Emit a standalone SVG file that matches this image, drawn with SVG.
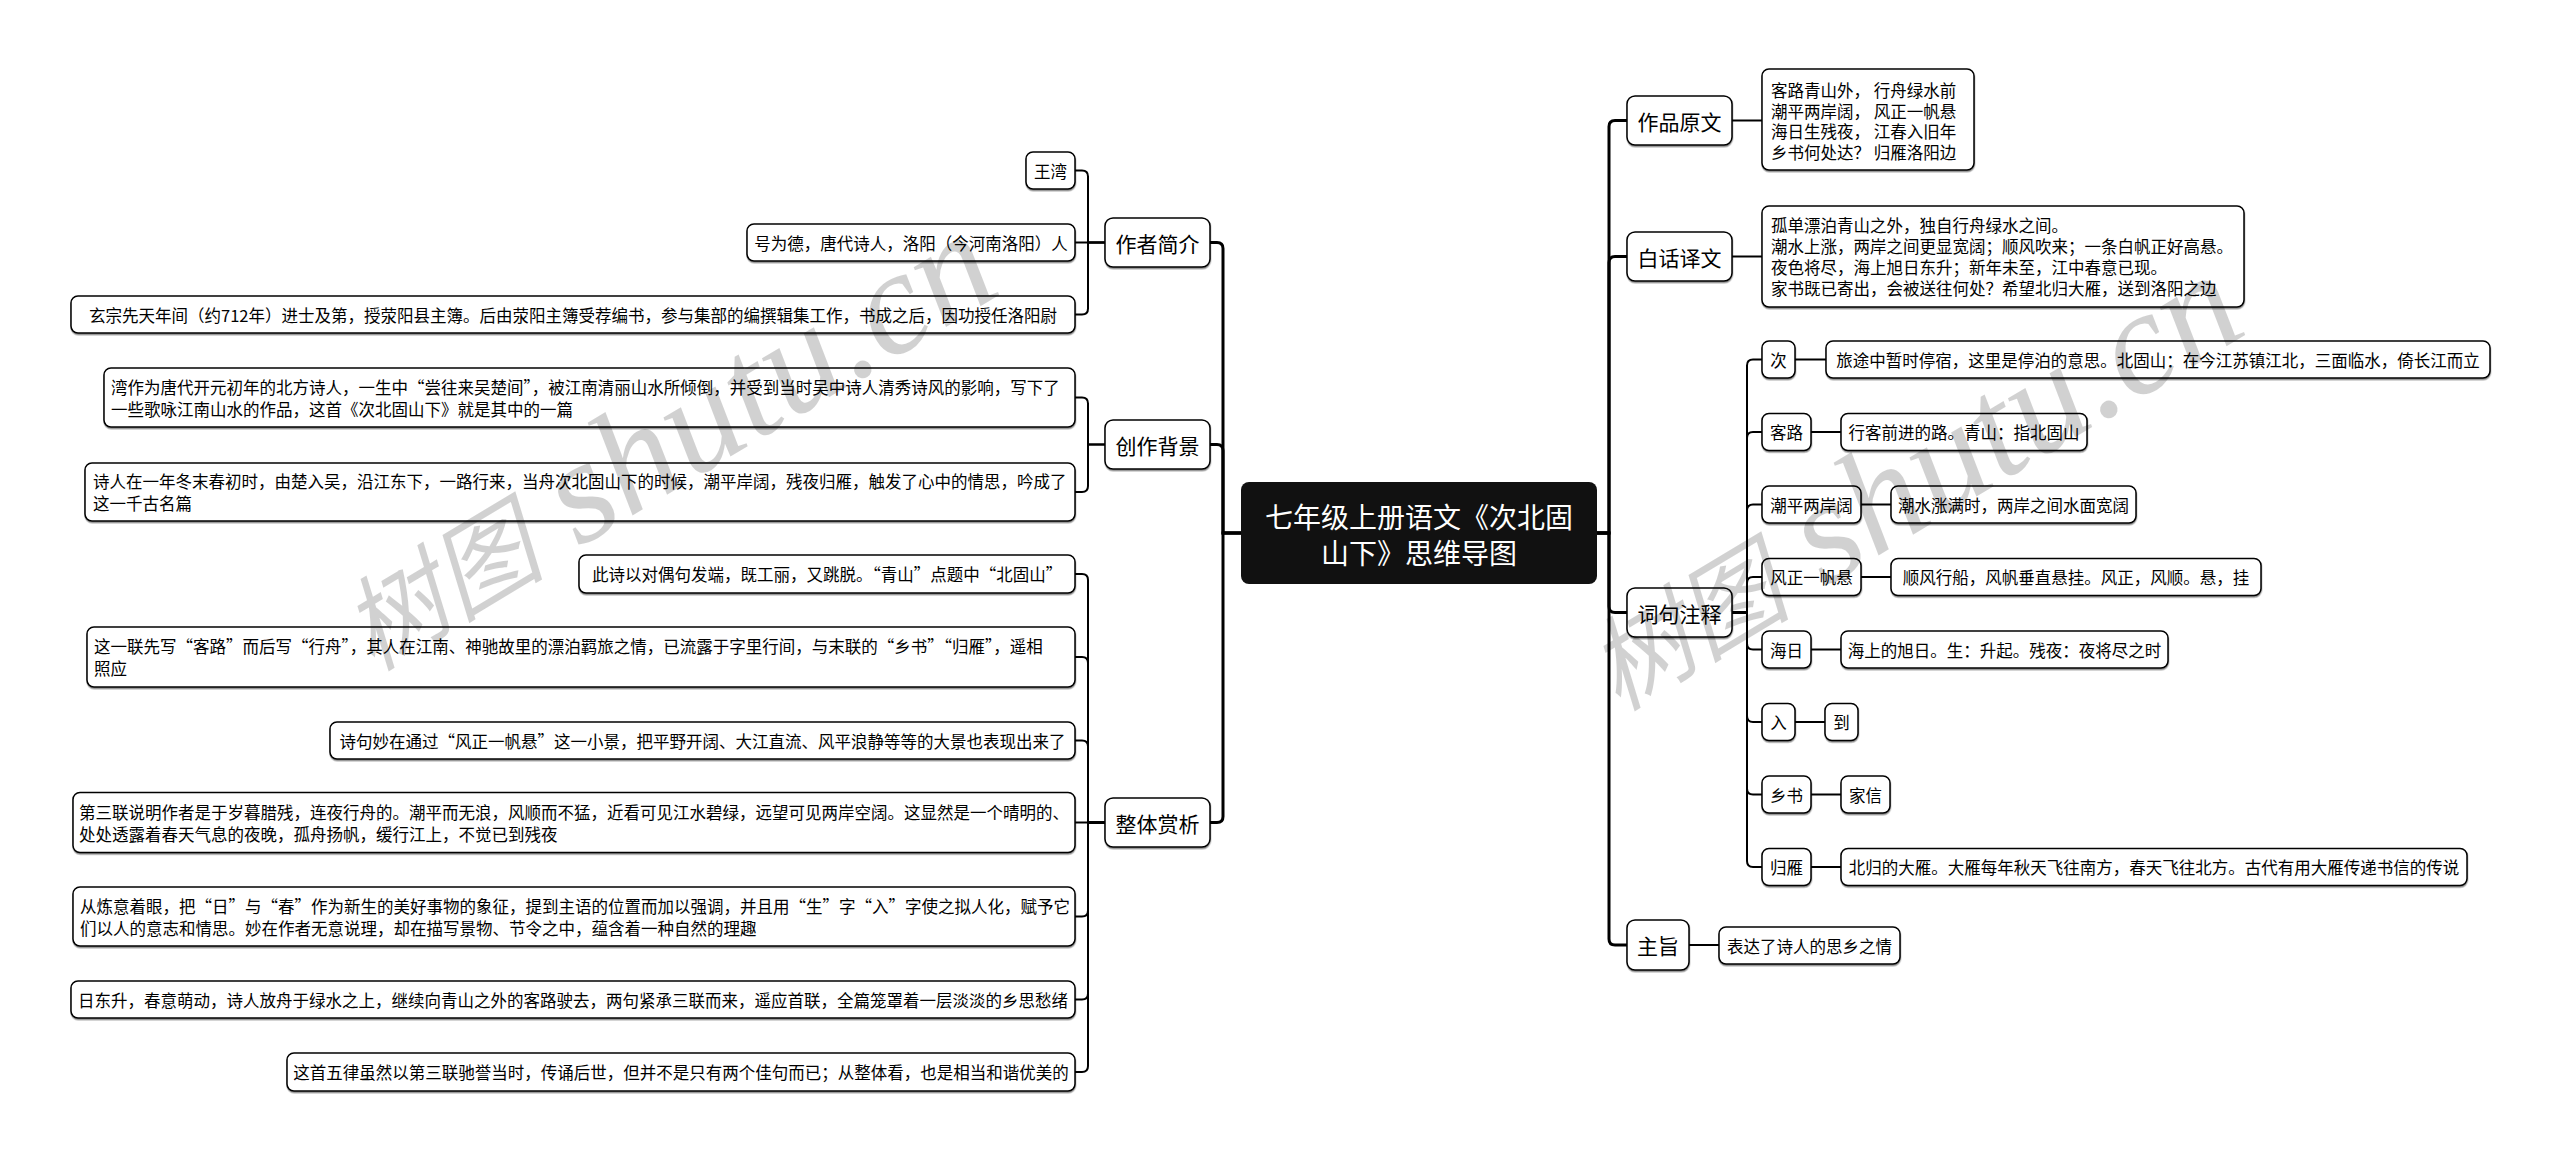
<svg xmlns="http://www.w3.org/2000/svg" width="2560" height="1161" viewBox="0 0 2560 1161">
<defs>
<filter id="sh" x="-5%" y="-20%" width="110%" height="160%"><feDropShadow dx="0.3" dy="1.5" stdDeviation="0.6" flood-color="#000" flood-opacity="0.45"/></filter>
<style>
.n rect{fill:#fff;stroke:#000;stroke-width:1.5;filter:url(#sh)}
text{font-family:"Noto Sans CJK SC","Liberation Sans",sans-serif;fill:#000;dominant-baseline:central}
.s{font-size:16.5px}
.c{text-anchor:middle}
.b{font-size:21px}
.root rect{fill:#111;stroke:none}
.root text{fill:#fff;font-size:28px;text-anchor:middle}
.lk path{fill:none;stroke:#000;stroke-width:2}
.lk path.m{stroke-width:3}
.wm{font-family:"Liberation Serif","Noto Sans CJK SC",serif;font-style:italic;fill:#000;fill-opacity:0.18;dominant-baseline:auto}
</style>
</defs>
<rect width="2560" height="1161" fill="#fff"/>

<g id="connectors" class="lk">
<path class="m" d="M1241 533H1223V248.5Q1223 242.5 1217 242.5H1210"/>
<path class="m" d="M1241 533H1223V450.5Q1223 444.5 1217 444.5H1210"/>
<path class="m" d="M1241 533H1223V816.5Q1223 822.5 1217 822.5H1210"/>
<path class="m" d="M1597 533H1609V126.5Q1609 120.5 1615 120.5H1627"/>
<path class="m" d="M1597 533H1609V262.5Q1609 256.5 1615 256.5H1627"/>
<path class="m" d="M1597 533H1609V606.5Q1609 612.5 1615 612.5H1627"/>
<path class="m" d="M1597 533H1609V939Q1609 945 1615 945H1627"/>
<path d="M1105 242.5H1088V176.5Q1088 170.5 1082 170.5H1075"/>
<path d="M1105 242.5H1075"/>
<path d="M1105 242.5H1088V308.5Q1088 314.5 1082 314.5H1075"/>
<path d="M1105 444.5H1088V403.5Q1088 397.5 1082 397.5H1075"/>
<path d="M1105 444.5H1088V486Q1088 492 1082 492H1075"/>
<path d="M1105 822.5H1088V580Q1088 574 1082 574H1075"/>
<path d="M1105 822.5H1088V663Q1088 657 1082 657H1075"/>
<path d="M1105 822.5H1088V746.5Q1088 740.5 1082 740.5H1075"/>
<path d="M1105 822.5H1075"/>
<path d="M1105 822.5H1088V910.5Q1088 916.5 1082 916.5H1075"/>
<path d="M1105 822.5H1088V993.5Q1088 999.5 1082 999.5H1075"/>
<path d="M1105 822.5H1088V1066Q1088 1072 1082 1072H1075"/>
<path d="M1732 120.5H1762"/>
<path d="M1732 256.5H1762"/>
<path d="M1732 612.5H1747V365.5Q1747 359.5 1753 359.5H1762"/>
<path d="M1732 612.5H1747V438Q1747 432 1753 432H1762"/>
<path d="M1732 612.5H1747V510.5Q1747 504.5 1753 504.5H1762"/>
<path d="M1732 612.5H1747V583Q1747 577 1753 577H1762"/>
<path d="M1732 612.5H1747V643.5Q1747 649.5 1753 649.5H1762"/>
<path d="M1732 612.5H1747V716Q1747 722 1753 722H1762"/>
<path d="M1732 612.5H1747V788.5Q1747 794.5 1753 794.5H1762"/>
<path d="M1732 612.5H1747V861Q1747 867 1753 867H1762"/>
<path d="M1795 359.5H1826"/>
<path d="M1811 432H1841"/>
<path d="M1861 504.5H1891"/>
<path d="M1861 577H1891"/>
<path d="M1811 649.5H1841"/>
<path d="M1795 722H1825"/>
<path d="M1811 794.5H1841"/>
<path d="M1811 867H1841"/>
<path d="M1689 945H1719"/>
</g>

<g id="root" class="root">
<rect x="1241" y="482" width="356" height="102" rx="8"/>
<text x="1419" y="515.5">七年级上册语文《次北固</text>
<text x="1419" y="552">山下》思维导图</text>
</g>

<g id="b-author" class="n"><rect x="1105" y="218" width="105" height="49" rx="8"/><text class="b c" x="1157.5" y="242.5">作者简介</text></g>
<g id="a1" class="n"><rect x="1026" y="152" width="49" height="37" rx="7"/><text class="s c" x="1050.5" y="170.5">王湾</text></g>
<g id="a2" class="n"><rect x="747" y="224" width="328" height="37" rx="7"/><text class="s c" x="911" y="242.5">号为德，唐代诗人，洛阳（今河南洛阳）人</text></g>
<g id="a3" class="n"><rect x="71" y="296" width="1004" height="37" rx="7"/><text class="s c" x="573" y="314.5">玄宗先天年间（约712年）进士及第，授荥阳县主簿。后由荥阳主簿受荐编书，参与集部的编撰辑集工作，书成之后，因功授任洛阳尉</text></g>

<g id="b-bg" class="n"><rect x="1105" y="420" width="105" height="49" rx="8"/><text class="b c" x="1157.5" y="444.5">创作背景</text></g>
<g id="g1" class="n"><rect x="104" y="368" width="971" height="59" rx="7"/><text class="s" x="111" y="386.5">湾作为唐代开元初年的北方诗人，一生中“尝往来吴楚间”，被江南清丽山水所倾倒，并受到当时吴中诗人清秀诗风的影响，写下了</text><text class="s" x="111" y="408.5">一些歌咏江南山水的作品，这首《次北固山下》就是其中的一篇</text></g>
<g id="g2" class="n"><rect x="85" y="463" width="990" height="58" rx="7"/><text class="s" x="93" y="481">诗人在一年冬末春初时，由楚入吴，沿江东下，一路行来，当舟次北固山下的时候，潮平岸阔，残夜归雁，触发了心中的情思，吟成了</text><text class="s" x="93" y="503">这一千古名篇</text></g>

<g id="b-ana" class="n"><rect x="1105" y="798" width="105" height="49" rx="8"/><text class="b c" x="1157.5" y="822.5">整体赏析</text></g>
<g id="e1" class="n"><rect x="579" y="555" width="496" height="38" rx="7"/><text class="s c" x="827" y="574">此诗以对偶句发端，既工丽，又跳脱。“青山”点题中“北固山”</text></g>
<g id="e2" class="n"><rect x="87" y="627" width="988" height="60" rx="7"/><text class="s" x="94" y="646">这一联先写“客路”而后写“行舟”，其人在江南、神驰故里的漂泊羁旅之情，已流露于字里行间，与末联的“乡书”“归雁”，遥相</text><text class="s" x="94" y="668">照应</text></g>
<g id="e3" class="n"><rect x="330" y="722" width="745" height="37" rx="7"/><text class="s c" x="702.5" y="740.5">诗句妙在通过“风正一帆悬”这一小景，把平野开阔、大江直流、风平浪静等等的大景也表现出来了</text></g>
<g id="e4" class="n"><rect x="73" y="792.5" width="1002" height="60" rx="7"/><text class="s" x="79" y="811.5">第三联说明作者是于岁暮腊残，连夜行舟的。潮平而无浪，风顺而不猛，近看可见江水碧绿，远望可见两岸空阔。这显然是一个晴明的、</text><text class="s" x="79" y="833.5">处处透露着春天气息的夜晚，孤舟扬帆，缓行江上，不觉已到残夜</text></g>
<g id="e5" class="n"><rect x="73" y="887" width="1002" height="59" rx="7"/><text class="s" x="80" y="905.5">从炼意着眼，把“日”与“春”作为新生的美好事物的象征，提到主语的位置而加以强调，并且用“生”字“入”字使之拟人化，赋予它</text><text class="s" x="80" y="927.5">们以人的意志和情思。妙在作者无意说理，却在描写景物、节令之中，蕴含着一种自然的理趣</text></g>
<g id="e6" class="n"><rect x="71" y="981" width="1004" height="37" rx="7"/><text class="s c" x="573" y="999.5">日东升，春意萌动，诗人放舟于绿水之上，继续向青山之外的客路驶去，两句紧承三联而来，遥应首联，全篇笼罩着一层淡淡的乡思愁绪</text></g>
<g id="e7" class="n"><rect x="287" y="1053" width="788" height="38" rx="7"/><text class="s c" x="681" y="1072">这首五律虽然以第三联驰誉当时，传诵后世，但并不是只有两个佳句而已；从整体看，也是相当和谐优美的</text></g>

<g id="b-orig" class="n"><rect x="1627" y="96" width="105" height="49" rx="8"/><text class="b c" x="1679.5" y="120.5">作品原文</text></g>
<g id="o1" class="n"><rect x="1762" y="69" width="212" height="101" rx="7"/><text class="s" x="1771" y="90">客路青山外， 行舟绿水前</text><text class="s" x="1771" y="110.7">潮平两岸阔， 风正一帆悬</text><text class="s" x="1771" y="131.4">海日生残夜， 江春入旧年</text><text class="s" x="1771" y="152">乡书何处达？ 归雁洛阳边</text></g>

<g id="b-trans" class="n"><rect x="1627" y="232" width="105" height="49" rx="8"/><text class="b c" x="1679.5" y="256.5">白话译文</text></g>
<g id="t1" class="n"><rect x="1762" y="206" width="482" height="101" rx="7"/><text class="s" x="1771" y="225">孤单漂泊青山之外，独自行舟绿水之间。</text><text class="s" x="1771" y="246">潮水上涨，两岸之间更显宽阔；顺风吹来；一条白帆正好高悬。</text><text class="s" x="1771" y="267">夜色将尽，海上旭日东升；新年未至，江中春意已现。</text><text class="s" x="1771" y="288">家书既已寄出，会被送往何处？希望北归大雁，送到洛阳之边</text></g>

<g id="b-notes" class="n"><rect x="1627" y="588" width="105" height="49" rx="8"/><text class="b c" x="1679.5" y="612.5">词句注释</text></g>
<g id="w1" class="n"><rect x="1762" y="341" width="33" height="37" rx="7"/><text class="s c" x="1778.5" y="359.5">次</text></g>
<g id="d1" class="n"><rect x="1826" y="341" width="664" height="37" rx="7"/><text class="s c" x="2158" y="359.5">旅途中暂时停宿，这里是停泊的意思。北固山：在今江苏镇江北，三面临水，倚长江而立</text></g>
<g id="w2" class="n"><rect x="1762" y="413.5" width="49" height="37" rx="7"/><text class="s c" x="1786.5" y="432">客路</text></g>
<g id="d2" class="n"><rect x="1841" y="413.5" width="246" height="37" rx="7"/><text class="s c" x="1964" y="432">行客前进的路。青山：指北固山</text></g>
<g id="w3" class="n"><rect x="1762" y="486" width="99" height="37" rx="7"/><text class="s c" x="1811.5" y="504.5">潮平两岸阔</text></g>
<g id="d3" class="n"><rect x="1891" y="486" width="245" height="37" rx="7"/><text class="s c" x="2013.5" y="504.5">潮水涨满时，两岸之间水面宽阔</text></g>
<g id="w4" class="n"><rect x="1762" y="558.5" width="99" height="37" rx="7"/><text class="s c" x="1811.5" y="577">风正一帆悬</text></g>
<g id="d4" class="n"><rect x="1891" y="558.5" width="370" height="37" rx="7"/><text class="s c" x="2076" y="577">顺风行船，风帆垂直悬挂。风正，风顺。悬，挂</text></g>
<g id="w5" class="n"><rect x="1762" y="631" width="49" height="37" rx="7"/><text class="s c" x="1786.5" y="649.5">海日</text></g>
<g id="d5" class="n"><rect x="1841" y="631" width="327" height="37" rx="7"/><text class="s c" x="2004.5" y="649.5">海上的旭日。生：升起。残夜：夜将尽之时</text></g>
<g id="w6" class="n"><rect x="1762" y="703.5" width="33" height="37" rx="7"/><text class="s c" x="1778.5" y="722">入</text></g>
<g id="d6" class="n"><rect x="1825" y="703.5" width="33" height="37" rx="7"/><text class="s c" x="1841.5" y="722">到</text></g>
<g id="w7" class="n"><rect x="1762" y="776" width="49" height="37" rx="7"/><text class="s c" x="1786.5" y="794.5">乡书</text></g>
<g id="d7" class="n"><rect x="1841" y="776" width="49" height="37" rx="7"/><text class="s c" x="1865.5" y="794.5">家信</text></g>
<g id="w8" class="n"><rect x="1762" y="848.5" width="49" height="37" rx="7"/><text class="s c" x="1786.5" y="867">归雁</text></g>
<g id="d8" class="n"><rect x="1841" y="848.5" width="626" height="37" rx="7"/><text class="s c" x="2154" y="867">北归的大雁。大雁每年秋天飞往南方，春天飞往北方。古代有用大雁传递书信的传说</text></g>

<g id="b-theme" class="n"><rect x="1627" y="920" width="62" height="50" rx="8"/><text class="b c" x="1658" y="945">主旨</text></g>
<g id="th1" class="n"><rect x="1719" y="927" width="181" height="37" rx="7"/><text class="s c" x="1809.5" y="945.5">表达了诗人的思乡之情</text></g>

<g id="watermark">
<text class="wm" x="372" y="672" transform="rotate(-31 372 672)"><tspan font-size="102">树图</tspan><tspan font-size="148"> shutu.cn</tspan></text>
<text class="wm" x="1618" y="712" transform="rotate(-31 1618 712)"><tspan font-size="102">树图</tspan><tspan font-size="148"> shutu.cn</tspan></text>
</g>
</svg>
